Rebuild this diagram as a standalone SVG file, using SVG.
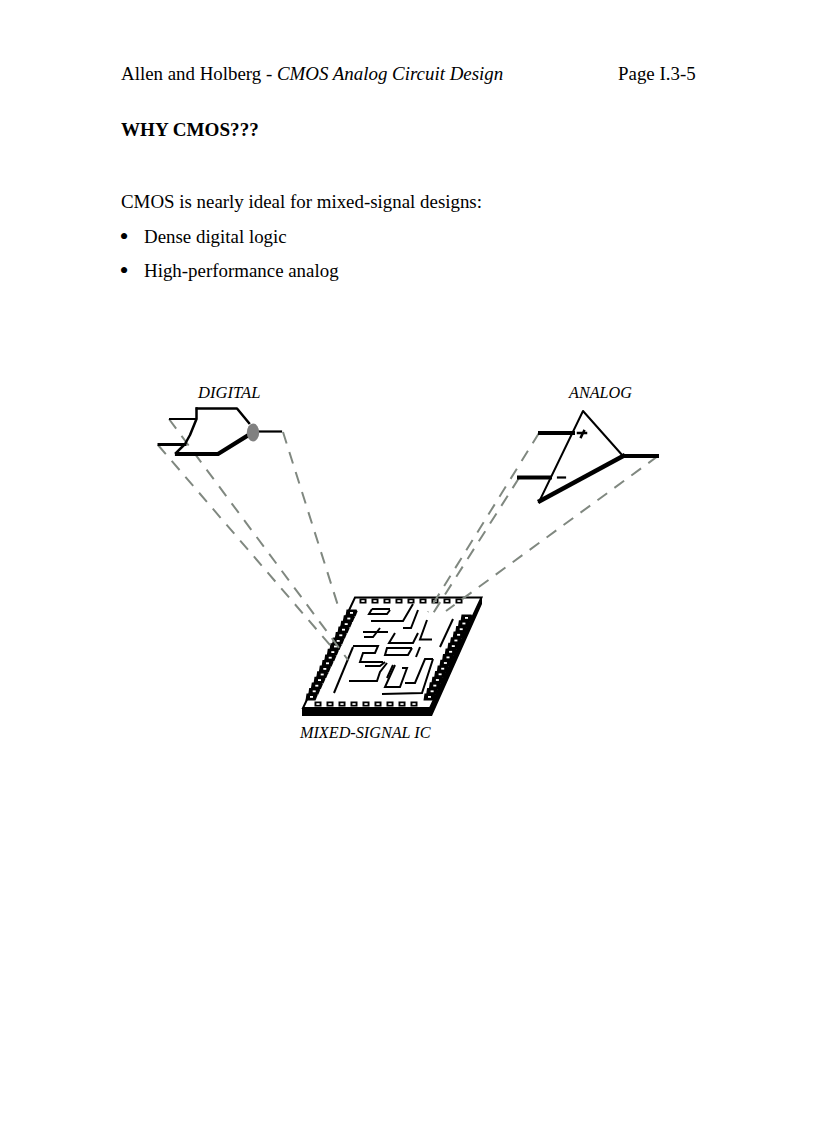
<svg xmlns="http://www.w3.org/2000/svg" width="816" height="1123" viewBox="0 0 816 1123">
<style>
text{font-family:"Liberation Serif","Times New Roman",serif;fill:#000}
.b{font-size:18.9px}
.l{font-size:16.2px;font-style:italic}
.k{fill:none;stroke:#000;stroke-linejoin:round;stroke-linecap:square}
.w{fill:none;stroke:#000;stroke-width:2;stroke-linejoin:miter}
.d{fill:none;stroke:#808880;stroke-width:2;stroke-dasharray:12 9}
</style>
<defs>
<path id="sp" d="M-5.500 -3.400H4.500L5.500 -1.400L3.500 3.400H-6.500Z" fill="#000"/>
<g id="pin"><use href="#sp"/><rect x="-2" y="-1" width="3" height="1.800" fill="#fff"/></g>
<g id="tpin"><rect x="-3.500" y="-2.500" width="7" height="5" fill="#000"/><rect x="-1.600" y="-.8" width="3.200" height="1.700" fill="#fff"/></g>
</defs>
<rect width="816" height="1123" fill="#fff"/>
<g id="page-text">
<text class="b" x="121" y="80">Allen and Holberg -</text>
<text class="b" x="277" y="80" font-style="italic" font-size="19">CMOS Analog Circuit Design</text>
<text class="b" x="618" y="80">Page I.3-5</text>
<text class="b" x="121" y="135.500" font-weight="bold" style="font-size:19.1px">WHY CMOS???</text>
<text class="b" x="121" y="208">CMOS is nearly ideal for mixed-signal designs:</text>
<text class="b" x="119.600" y="244.500" style="font-size:26px">•</text>
<text class="b" x="144" y="243">Dense digital logic</text>
<text class="b" x="119.600" y="278.500" style="font-size:26px">•</text>
<text class="b" x="144" y="277">High-performance analog</text>
</g>
<g id="chip">
<path d="M302 708H430L482 597V604L432 716H302Z" fill="#000"/>
<path d="M355 597.500H481.500L430 708H303Z" fill="#fff" stroke="#000" stroke-width="2"/>
<g id="chip-pins-top"><use href="#tpin" x="363" y="601"/><use href="#tpin" x="375" y="601"/><use href="#tpin" x="387" y="601"/><use href="#tpin" x="399" y="601"/><use href="#tpin" x="411" y="601"/><use href="#tpin" x="423" y="601"/><use href="#tpin" x="435" y="601"/><use href="#tpin" x="447" y="601"/><use href="#tpin" x="459" y="601"/></g>
<g id="chip-pins-bottom"><use href="#tpin" x="318" y="704"/><use href="#tpin" x="330" y="704"/><use href="#tpin" x="342" y="704"/><use href="#tpin" x="354" y="704"/><use href="#tpin" x="366" y="704"/><use href="#tpin" x="378" y="704"/><use href="#tpin" x="390" y="704"/><use href="#tpin" x="402" y="704"/><use href="#tpin" x="414" y="704"/></g>
<g id="chip-pins-left"><use href="#pin" x="352" y="613"/><use href="#pin" x="349.300" y="618.600"/><use href="#pin" x="346.700" y="624.200"/><use href="#pin" x="344" y="629.800"/><use href="#pin" x="341.300" y="635.400"/><use href="#pin" x="338.700" y="641"/><use href="#pin" x="336" y="646.600"/><use href="#pin" x="333.300" y="652.200"/><use href="#pin" x="330.700" y="657.800"/><use href="#pin" x="328" y="663.400"/><use href="#pin" x="325.300" y="669"/><use href="#pin" x="322.700" y="674.600"/><use href="#pin" x="320" y="680.200"/><use href="#pin" x="317.300" y="685.800"/><use href="#pin" x="314.700" y="691.400"/><use href="#pin" x="312" y="697"/></g>
<g id="chip-pins-right"><use href="#pin" x="467" y="618"/><use href="#pin" x="464.400" y="623.600"/><use href="#pin" x="461.700" y="629.300"/><use href="#pin" x="459.100" y="634.900"/><use href="#pin" x="456.400" y="640.600"/><use href="#pin" x="453.800" y="646.200"/><use href="#pin" x="451.100" y="651.900"/><use href="#pin" x="448.500" y="657.500"/><use href="#pin" x="445.900" y="663.100"/><use href="#pin" x="443.200" y="668.800"/><use href="#pin" x="440.600" y="674.400"/><use href="#pin" x="437.900" y="680.100"/><use href="#pin" x="435.300" y="685.700"/><use href="#pin" x="432.600" y="691.400"/><use href="#pin" x="430" y="697"/></g>
<g id="chip-wires">
<path class="w" d="M372 609H390"/>
<path class="w" d="M372 609L369 614H387L390 610"/>
<path class="w" d="M371 621H403L413 604"/>
<path class="w" d="M403 628H411L418 610"/>
<path class="w" d="M363 632H388"/>
<path class="w" d="M364 637H373L380 628"/>
<path class="w" d="M395 633L389 643H413L418 633"/>
<path class="w" d="M427 620L420 639.500H432"/>
<path class="w" d="M453 619L440 647"/>
<path class="w" d="M353 647L334 693"/>
<path class="w" d="M353 646H378L375 653H363L360 662H383"/>
<path class="w" d="M412 648H387L385 655H408L412 648"/>
<path class="w" d="M420 647L416 657"/>
<path class="w" d="M385 662L380 666H365"/>
<path class="w" d="M349 681H377L380 672L387 663"/>
<path class="w" d="M393 665L387 678"/>
<path class="w" d="M395 665L385 687H400L407 668H402"/>
<path class="w" d="M433 659H425L415 683H405"/>
<path class="w" d="M433 659L422 693L382 694"/>
</g>
</g>
<g id="connectors">
<path class="d" d="M169 419L348 660"/>
<path class="d" d="M158 445L336 652"/>
<path class="d" d="M283 432L340 612"/>
<path class="d" d="M539 433L428 612"/>
<path class="d" d="M519 478L432 615"/>
<path class="d" d="M658 456L446 611"/>
</g>
<g id="digital-gate">
<path class="k" d="M197 408.500H237L249 423" stroke-width="2.500"/>
<path class="k" d="M196.500 408.500V419L190 435L185 444L176 453" stroke-width="2.500"/>
<path class="k" d="M170 419H196" stroke-width="2"/>
<path class="k" d="M159 444.500H185" stroke-width="3"/>
<path class="k" d="M177 454H218L247 436" stroke-width="4.200"/>
<path class="k" d="M259 431.500H281" stroke-width="2.200"/>
<ellipse cx="253" cy="432.500" rx="6.200" ry="9" fill="#808080"/>
</g>
<g id="analog-opamp">
<path class="k" d="M539 502L583 411L623 456" stroke-width="2"/>
<path class="k" d="M540 501L623 456" stroke-width="4.500"/>
<path class="k" d="M540 433H573" stroke-width="4"/>
<path class="k" d="M519 477.500H550" stroke-width="4"/>
<path class="k" d="M624 456H657" stroke-width="4"/>
<path class="k" d="M578 433H586M584 431L581 437" stroke-width="2.500"/>
<path class="k" d="M558 477.500H565" stroke-width="2.200"/>
</g>
<g id="labels">
<text class="l" x="198" y="398" style="font-size:16.6px">DIGITAL</text>
<text class="l" x="569" y="398">ANALOG</text>
<text class="l" x="300" y="738">MIXED-SIGNAL IC</text>
</g>
</svg>
